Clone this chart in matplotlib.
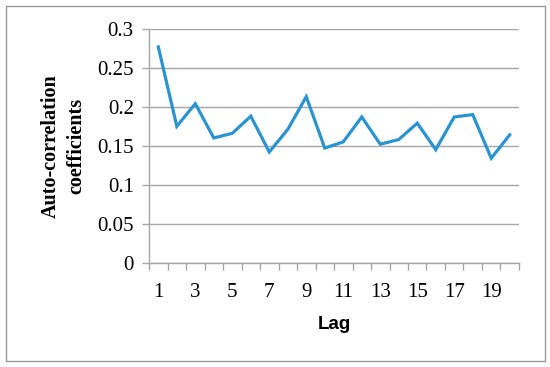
import matplotlib
matplotlib.use("Agg")
import matplotlib.pyplot as plt
from matplotlib.patches import Rectangle

lags = list(range(1, 21))
acf = [0.277, 0.175, 0.204, 0.160, 0.166, 0.188, 0.142, 0.171, 0.213, 0.147,
       0.155, 0.187, 0.152, 0.158, 0.179, 0.145, 0.187, 0.190, 0.134, 0.164]
y_ticks = [0, 0.05, 0.1, 0.15, 0.2, 0.25, 0.3]
y_labels = ["0", "0.05", "0.1", "0.15", "0.2", "0.25", "0.3"]
x_label_ticks = list(range(1, 21, 2))

fig = plt.figure(figsize=(5.5, 3.67), dpi=100)
ax = fig.add_axes([0.271, 0.2847, 0.9436 - 0.271, 0.921 - 0.2847])

grid_c = "#a6a6a6"
ax.plot(lags, acf, color="#2a93d0", linewidth=2.3, solid_joinstyle="miter", zorder=3)

ax.set_xlim(0.5, 20.5)
ax.set_ylim(0, 0.3)
ax.set_yticks(y_ticks)
ax.set_yticklabels(y_labels, fontfamily="Liberation Serif", fontsize=15)
ax.set_xticks(x_label_ticks)
ax.set_xticklabels([str(v) for v in x_label_ticks], fontfamily="Liberation Serif", fontsize=15)
ax.set_xticks([i + 0.5 for i in range(0, 21)], minor=True)
ax.tick_params(axis="x", which="major", length=0, pad=15)
ax.tick_params(axis="x", which="minor", length=5, color=grid_c, width=1)
ax.tick_params(axis="y", which="major", length=5, color=grid_c, width=1, pad=6)
ax.yaxis.grid(True, color=grid_c, linewidth=1)
ax.set_axisbelow(True)
for s in ["top", "right"]:
    ax.spines[s].set_visible(False)
for s in ["left", "bottom"]:
    ax.spines[s].set_color(grid_c)
    ax.spines[s].set_linewidth(1)

ax.set_xlabel("Lag", fontfamily="Liberation Sans", fontweight="bold", fontsize=13.5, labelpad=10)
ax.set_ylabel("Auto-correlation\ncoefficients", fontfamily="Liberation Serif",
              fontweight="bold", fontsize=14.5, linespacing=1.35, labelpad=8)

fig.patches.append(Rectangle((0.01, 0.015), 0.98, 0.97, transform=fig.transFigure,
                             fill=False, edgecolor="#999999", linewidth=1))

fig.savefig("out.png", dpi=100)
